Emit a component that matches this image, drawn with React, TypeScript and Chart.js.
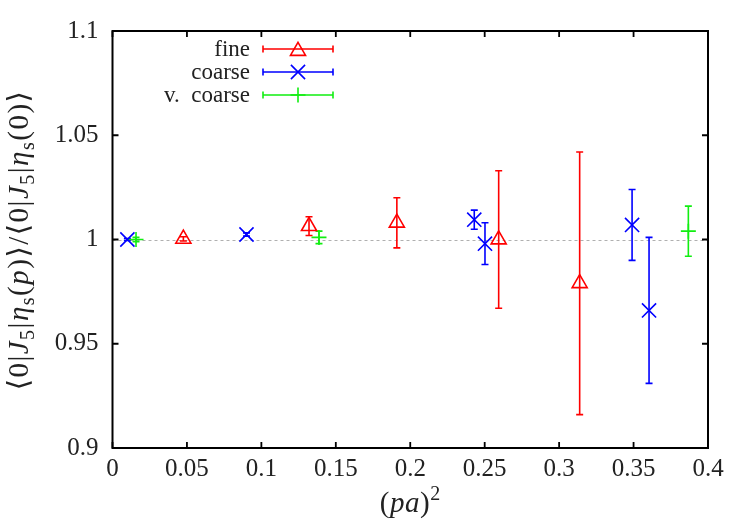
import { useEffect, useRef } from "react";
import { Chart, registerables } from "chart.js";

Chart.register(...registerables);

const FONT = "'Liberation Serif', 'DejaVu Serif', serif";

// (pa)^2 values and ratio values with errors
const fineX = [0.0476, 0.132, 0.191, 0.2594, 0.3138];
const fineY = [1.0003, 1.0064, 1.008, 1.0, 0.979];
const fineErr = [0.001, 0.0045, 0.012, 0.033, 0.063];

const coarseX = [0.01, 0.09, 0.243, 0.2502, 0.349, 0.3604];
const coarseY = [1.0, 1.0024, 1.0095, 0.998, 1.007, 0.966];
const coarseErr = [0.0005, 0.0008, 0.0046, 0.01, 0.017, 0.035];

const vcoarseX = [0.0158, 0.1387, 0.3868];
const vcoarseY = [1.0, 1.001, 1.004];
const vcoarseErr = [0.001, 0.003, 0.012];

const xTicks = [0, 0.05, 0.1, 0.15, 0.2, 0.25, 0.3, 0.35, 0.4];
const xTickLabels = ["0", "0.05", "0.1", "0.15", "0.2", "0.25", "0.3", "0.35", "0.4"];
const yTicks = [0.9, 0.95, 1, 1.05, 1.1];
const yTickLabels = ["0.9", "0.95", "1", "1.05", "1.1"];

const seriesNames = ["fine", "coarse", "v.  coarse"];
const seriesColors = ["#ff0000", "#0000ff", "#11ee11"];
const seriesStyles = ["triangle", "crossRot", "cross"];
const seriesRadius = [8.7, 10, 7.5];

function drawMarker(ctx: CanvasRenderingContext2D, style: string, x: number, y: number, r: number) {
  ctx.beginPath();
  if (style === "triangle") {
    ctx.moveTo(x, y - r);
    ctx.lineTo(x + r * Math.sin((2 * Math.PI) / 3), y + r * 0.5);
    ctx.lineTo(x - r * Math.sin((2 * Math.PI) / 3), y + r * 0.5);
    ctx.closePath();
  } else if (style === "crossRot") {
    const o = r * Math.SQRT1_2;
    ctx.moveTo(x - o, y - o);
    ctx.lineTo(x + o, y + o);
    ctx.moveTo(x - o, y + o);
    ctx.lineTo(x + o, y - o);
  } else {
    ctx.moveTo(x - r, y);
    ctx.lineTo(x + r, y);
    ctx.moveTo(x, y - r);
    ctx.lineTo(x, y + r);
  }
  ctx.stroke();
}

type Seg = [string, "n" | "i" | "sub" | "sup"];

function drawRich(ctx: CanvasRenderingContext2D, segs: Seg[], cx: number, cy: number, size: number, spacing: number) {
  const fontFor = (k: string) =>
    k === "i" ? `italic ${size}px ${FONT}` : k === "n" ? `${size}px ${FONT}` : `${Math.round(size * 0.7)}px ${FONT}`;
  (ctx as any).letterSpacing = `${spacing}px`;
  let total = 0;
  const widths = segs.map(([t, k]) => {
    ctx.font = fontFor(k);
    const w = ctx.measureText(t).width;
    total += w;
    return w;
  });
  let x = cx - total / 2;
  ctx.textAlign = "left";
  ctx.textBaseline = "alphabetic";
  segs.forEach(([t, k], i) => {
    ctx.font = fontFor(k);
    const dy = k === "sub" ? size * 0.22 : k === "sup" ? -size * 0.4 : 0;
    ctx.fillText(t, x, cy + dy);
    x += widths[i];
  });
  (ctx as any).letterSpacing = "0px";
}

const decorPlugin = {
  id: "decor",
  beforeDatasetsDraw(chart: any) {
    const { ctx, chartArea: a, scales } = chart;
    const xs = scales.x;
    const ys = scales.y;
    ctx.save();
    // y = 1 reference line
    ctx.strokeStyle = "#b0b0b0";
    ctx.lineWidth = 1;
    ctx.setLineDash([3, 3]);
    ctx.beginPath();
    const y1 = Math.round(ys.getPixelForValue(1)) + 0.5;
    ctx.moveTo(a.left, y1);
    ctx.lineTo(a.right, y1);
    ctx.stroke();
    ctx.setLineDash([]);
    // error bars
    chart.data.datasets.forEach((ds: any) => {
      ctx.strokeStyle = ds.borderColor;
      ctx.lineWidth = 1.6;
      ds.data.forEach((p: any, i: number) => {
        const e = ds.errs[i];
        const px = xs.getPixelForValue(p.x);
        const top = ys.getPixelForValue(p.y + e);
        const bot = ys.getPixelForValue(p.y - e);
        ctx.beginPath();
        ctx.moveTo(px, top);
        ctx.lineTo(px, bot);
        ctx.moveTo(px - 3.5, top);
        ctx.lineTo(px + 3.5, top);
        ctx.moveTo(px - 3.5, bot);
        ctx.lineTo(px + 3.5, bot);
        ctx.stroke();
      });
    });
    ctx.restore();
  },
  afterDraw(chart: any) {
    const { ctx, chartArea: a, scales } = chart;
    const xs = scales.x;
    const ys = scales.y;
    ctx.save();
    // frame
    ctx.strokeStyle = "#000";
    ctx.lineWidth = 2;
    ctx.strokeRect(a.left, a.top, a.right - a.left, a.bottom - a.top);
    // inward ticks, mirrored
    ctx.lineWidth = 1.8;
    const tl = 6;
    ctx.beginPath();
    xTicks.forEach((v) => {
      const px = xs.getPixelForValue(v);
      ctx.moveTo(px, a.bottom);
      ctx.lineTo(px, a.bottom - tl);
      ctx.moveTo(px, a.top);
      ctx.lineTo(px, a.top + tl);
    });
    yTicks.forEach((v) => {
      const py = ys.getPixelForValue(v);
      ctx.moveTo(a.left, py);
      ctx.lineTo(a.left + tl, py);
      ctx.moveTo(a.right, py);
      ctx.lineTo(a.right - tl, py);
    });
    ctx.stroke();

    // legend
    const rows = [49, 72, 95];
    seriesNames.forEach((name, i) => {
      const y = rows[i];
      ctx.fillStyle = "#222";
      ctx.font = `23px ${FONT}`;
      ctx.textAlign = "right";
      ctx.textBaseline = "middle";
      ctx.fillText(name, 250, y + 1);
      ctx.strokeStyle = seriesColors[i];
      ctx.lineWidth = 1.6;
      ctx.beginPath();
      ctx.moveTo(263, y);
      ctx.lineTo(333, y);
      ctx.moveTo(263, y - 3.5);
      ctx.lineTo(263, y + 3.5);
      ctx.moveTo(333, y - 3.5);
      ctx.lineTo(333, y + 3.5);
      ctx.stroke();
      drawMarker(ctx, seriesStyles[i], 298, y + (seriesStyles[i] === "triangle" ? 2 : 0), seriesRadius[i]);
    });

    // axis titles
    ctx.fillStyle = "#222";
    drawRich(
      ctx,
      [
        ["(", "n"],
        ["pa", "i"],
        [")", "n"],
        ["2", "sup"],
      ],
      (a.left + a.right) / 2,
      512,
      29,
      0.5
    );
    ctx.save();
    ctx.translate(28, 240);
    ctx.rotate(-Math.PI / 2);
    drawRich(
      ctx,
      [
        ["\u27e80|", "n"],
        ["J", "i"],
        ["5", "sub"],
        ["|", "n"],
        ["\u03b7", "i"],
        ["s", "sub"],
        ["(", "n"],
        ["p", "i"],
        [")\u27e9/\u27e80|", "n"],
        ["J", "i"],
        ["5", "sub"],
        ["|", "n"],
        ["\u03b7", "i"],
        ["s", "sub"],
        ["(0)\u27e9", "n"],
      ],
      0,
      0,
      29,
      1.5
    );
    ctx.restore();
    ctx.restore();
  },
};

export default function App() {
  const ref = useRef<HTMLCanvasElement | null>(null);
  useEffect(() => {
    if (!ref.current) return;
    const mk = (xs: number[], ys: number[]) => xs.map((x, i) => ({ x, y: ys[i] }));
    const sets = [
      [fineX, fineY, fineErr],
      [coarseX, coarseY, coarseErr],
      [vcoarseX, vcoarseY, vcoarseErr],
    ];
    const chart = new Chart(ref.current, {
      type: "scatter",
      data: {
        datasets: sets.map((s, i) => ({
          label: seriesNames[i],
          data: mk(s[0], s[1]),
          errs: s[2],
          borderColor: seriesColors[i],
          backgroundColor: "rgba(0,0,0,0)",
          pointStyle: seriesStyles[i],
          pointRadius: seriesRadius[i],
          pointBorderWidth: 1.6,
          showLine: false,
        })) as any,
      },
      options: {
        animation: false,
        responsive: false,
        maintainAspectRatio: false,
        layout: { padding: { left: 0, top: 31, right: 42, bottom: 0 } },
        plugins: { legend: { display: false }, tooltip: { enabled: false } },
        scales: {
          x: {
            type: "linear",
            min: 0,
            max: 0.4,
            afterBuildTicks: (axis: any) => {
              axis.ticks = xTicks.map((v) => ({ value: v }));
            },
            afterFit: (s: any) => {
              s.height = 77;
            },
            ticks: {
              callback: (_v: any, i: number) => xTickLabels[i],
              font: { family: FONT, size: 25 },
              color: "#222",
              padding: 6,
              maxRotation: 0,
              autoSkip: false,
            },
            grid: { display: false, drawTicks: false },
            border: { display: false },
          },
          y: {
            type: "linear",
            min: 0.9,
            max: 1.1,
            afterBuildTicks: (axis: any) => {
              axis.ticks = yTicks.map((v) => ({ value: v }));
            },
            afterFit: (s: any) => {
              s.width = 112.5;
            },
            ticks: {
              callback: (_v: any, i: number) => yTickLabels[i],
              font: { family: FONT, size: 25 },
              color: "#222",
              padding: 14,
              autoSkip: false,
            },
            grid: { display: false, drawTicks: false },
            border: { display: false },
          },
        },
      } as any,
      plugins: [decorPlugin],
    });
    return () => chart.destroy();
  }, []);
  return (
    <div style={{ position: "fixed", left: 0, top: 0, width: 750, height: 525, background: "#fff" }}>
      <canvas ref={ref} width={750} height={525} style={{ display: "block", width: 750, height: 525 }} />
    </div>
  );
}
